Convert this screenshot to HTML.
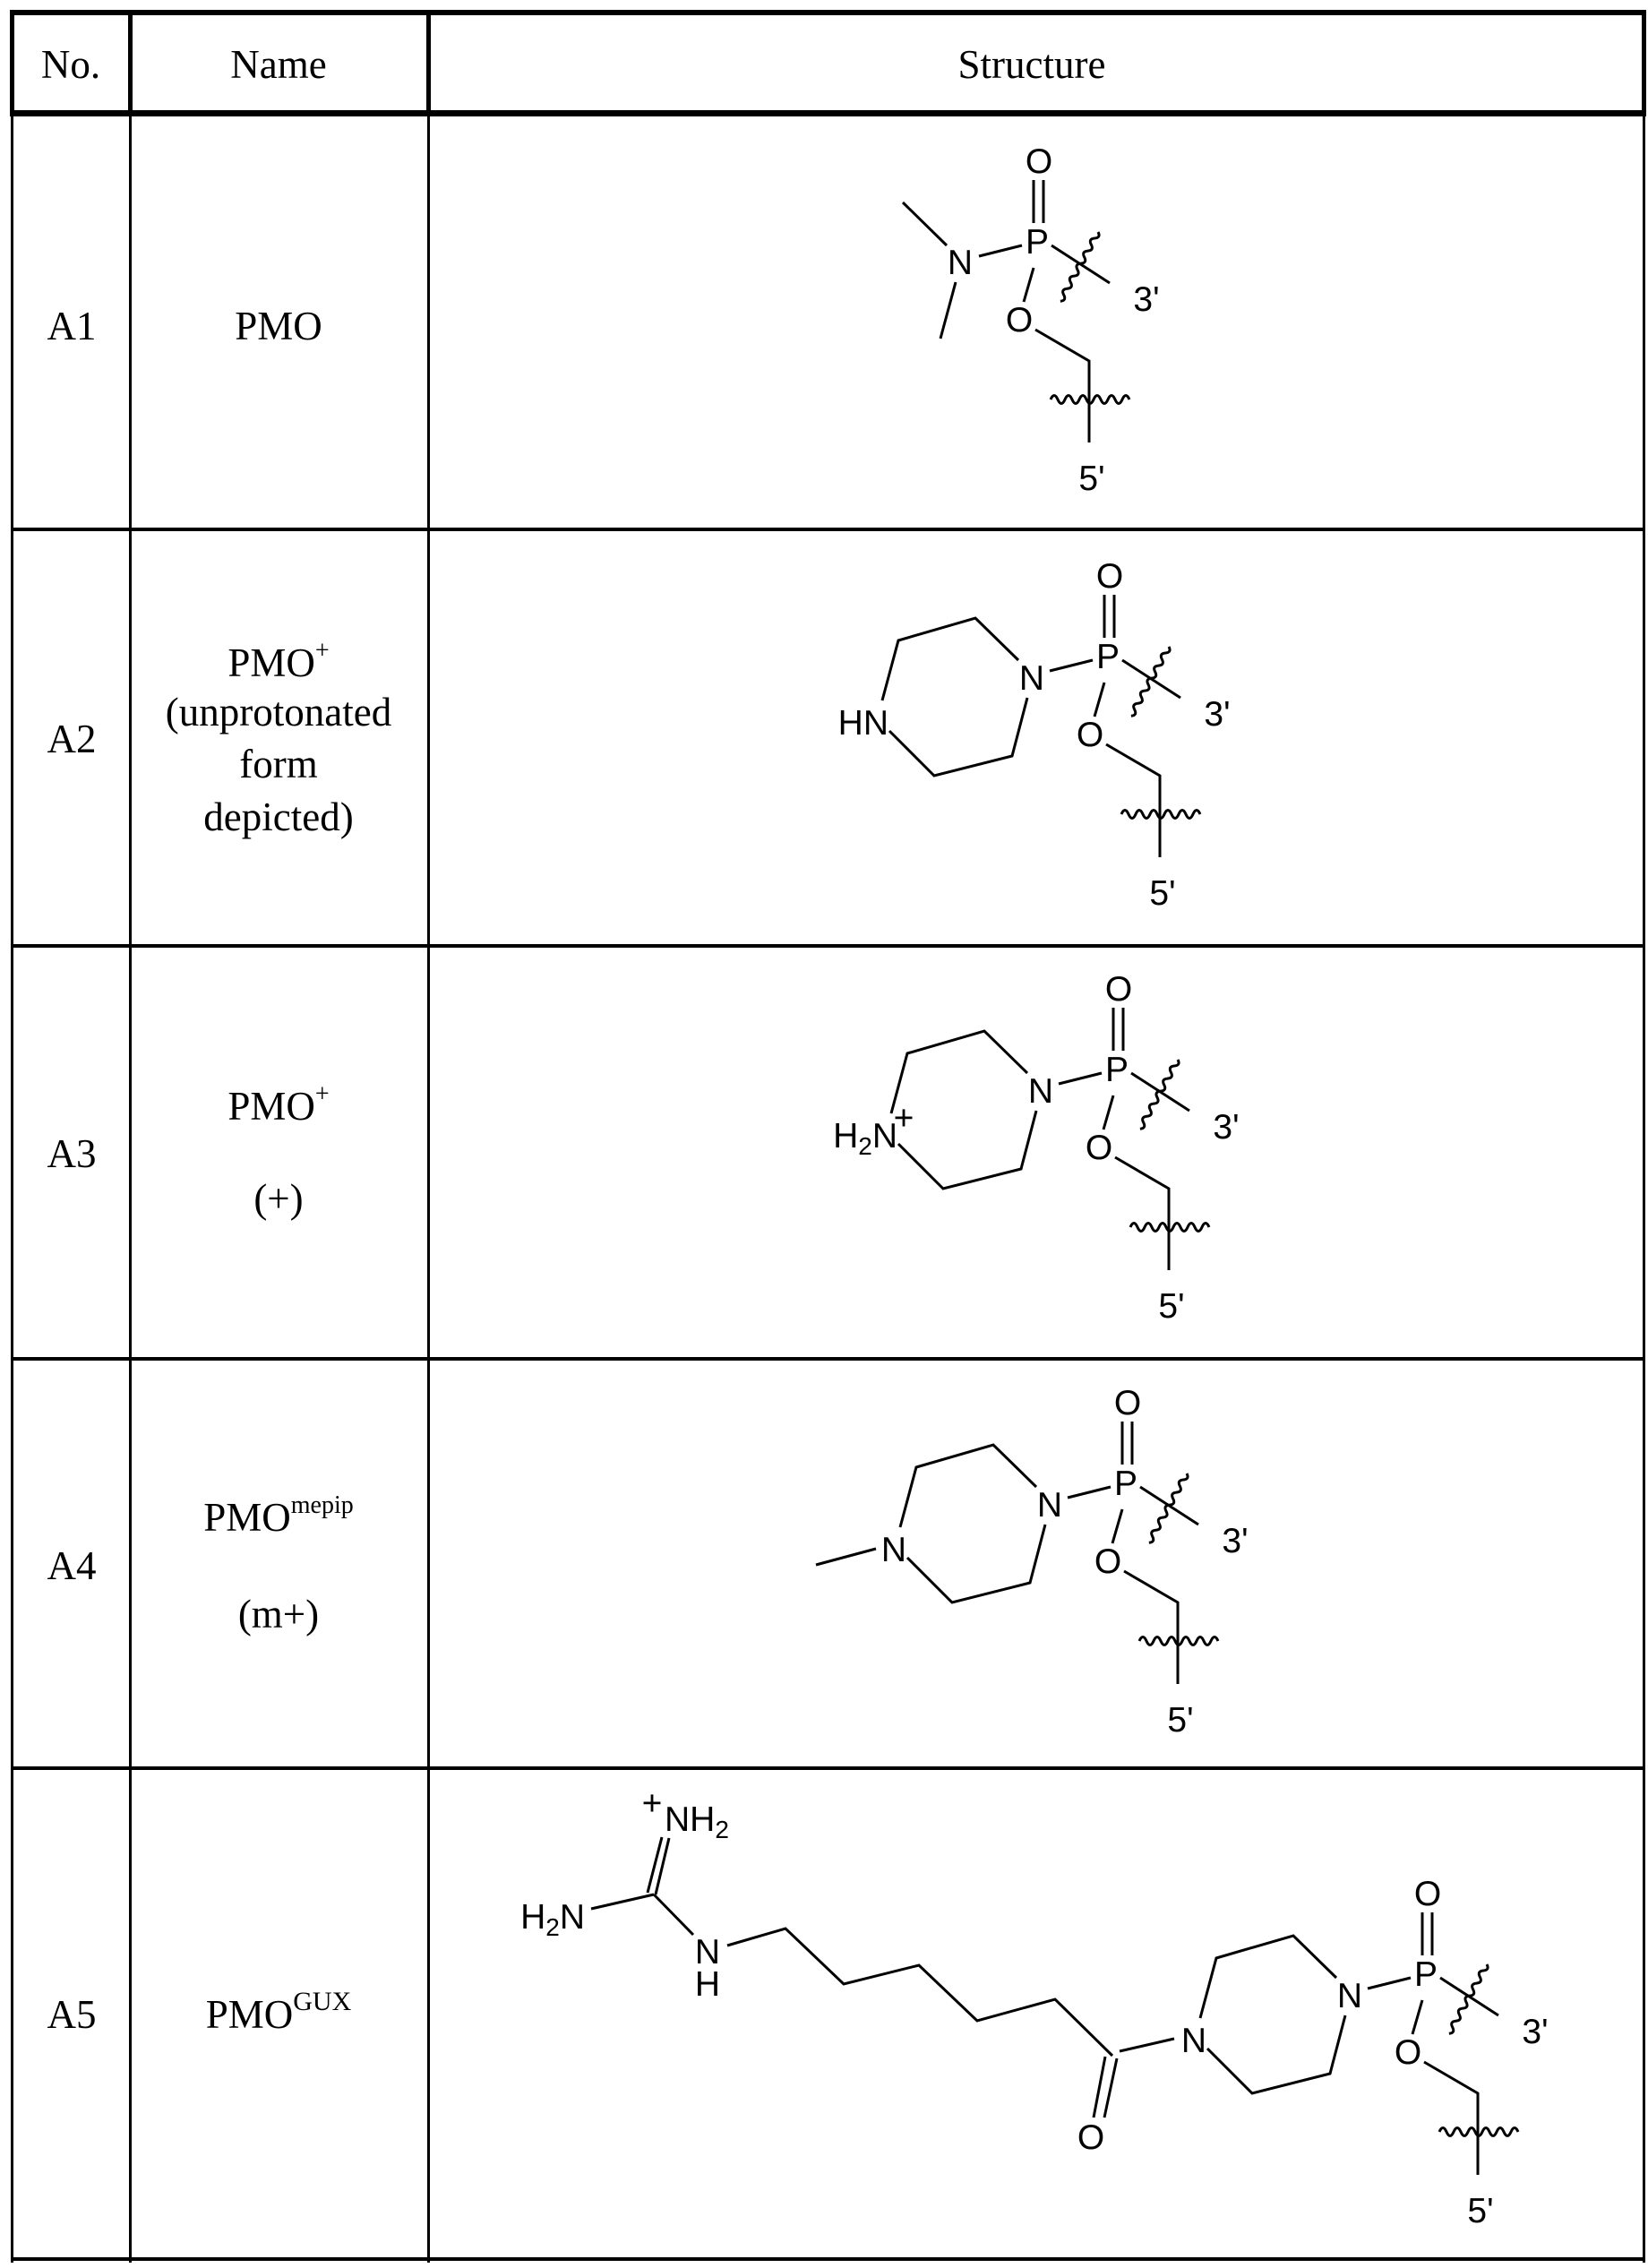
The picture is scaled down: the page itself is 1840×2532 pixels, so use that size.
<!DOCTYPE html>
<html><head><meta charset="utf-8"><style>
html,body{margin:0;padding:0;background:#fff;}
svg{display:block;}
.s text{font-family:"Liberation Serif",serif;font-size:45px;fill:#000;}
.m text{font-family:"Liberation Sans",sans-serif;font-size:39px;fill:#000;stroke:none;text-anchor:middle;}
.m line,.m polyline,.m path{stroke:#000;stroke-width:3;fill:none;}
</style></head><body>
<svg width="1840" height="2532" viewBox="0 0 1840 2532" xmlns="http://www.w3.org/2000/svg">
<g fill="#000">
<rect x="11" y="11" width="1827" height="6"/>
<rect x="11" y="123" width="1827" height="7"/>
<rect x="11" y="11" width="5" height="119"/>
<rect x="143" y="11" width="5" height="119"/>
<rect x="476" y="11" width="5" height="119"/>
<rect x="1833" y="11" width="5" height="119"/>
<rect x="12" y="130" width="3" height="2396"/>
<rect x="144" y="130" width="3" height="2396"/>
<rect x="477" y="130" width="3" height="2396"/>
<rect x="1834" y="130" width="3" height="2396"/>
<rect x="12" y="589" width="1825" height="4"/>
<rect x="12" y="1054" width="1825" height="4"/>
<rect x="12" y="1515" width="1825" height="4"/>
<rect x="12" y="1972" width="1825" height="4"/>
<rect x="12" y="2520" width="1825" height="4"/>
</g>
<g class="s" text-anchor="middle">
<text x="79" y="87">No.</text>
<text x="311" y="87">Name</text>
<text x="1152" y="87">Structure</text>
<text x="80" y="379">A1</text>
<text x="311" y="379">PMO</text>
<text x="80" y="840">A2</text>
<text x="311" y="755">PMO<tspan font-size="28" dy="-20">+</tspan></text>
<text x="311" y="810">(unprotonated</text>
<text x="311" y="868">form</text>
<text x="311" y="927">depicted)</text>
<text x="80" y="1303">A3</text>
<text x="311" y="1250">PMO<tspan font-size="28" dy="-20">+</tspan></text>
<text x="311" y="1353">(+)</text>
<text x="80" y="1763">A4</text>
<text x="311" y="1709">PMO<tspan font-size="28" dy="-20">mepip</tspan></text>
<text x="311" y="1817">(m+)</text>
<text x="80" y="2264">A5</text>
<text x="311" y="2264">PMO<tspan font-size="30" dy="-20">GUX</tspan></text>
</g>

<g class="m" transform="translate(1158,269)">
<line x1="-4" y1="-68" x2="-4" y2="-20"/><line x1="7" y1="-68" x2="7" y2="-20"/>
<line x1="-65" y1="17" x2="-17" y2="5"/>
<line x1="-4" y1="30" x2="-15" y2="68"/>
<polyline points="-2,99 58,134 58,225"/>
<line x1="16" y1="5" x2="81" y2="47"/>
<path d="M15,177 q4,-9 8,0 t8,0 t8,0 t8,0 t8,0 t8,0 t8,0 t8,0 t8,0 t8,0 t8,0"/>
<path transform="translate(68,-10) rotate(118.6)" d="M0,0 q4,-6 8,0 t8,0 t8,0 t8,0 t8,0 t8,0 t8,0 t8,0 t8,0 t8,0 t8,0"/>
<text x="0" y="14">P</text><text x="2" y="-76">O</text><text x="-20" y="101">O</text>
<text x="122" y="78">3'</text><text x="61" y="278">5'</text>
<text x="-86" y="37">N</text>
<line x1="-101" y1="5" x2="-150" y2="-43"/>
<line x1="-91" y1="46" x2="-108" y2="109"/>
</g>

<g class="m" transform="translate(1237,732)">
<line x1="-4" y1="-68" x2="-4" y2="-20"/><line x1="7" y1="-68" x2="7" y2="-20"/>
<line x1="-65" y1="17" x2="-17" y2="5"/>
<line x1="-4" y1="30" x2="-15" y2="68"/>
<polyline points="-2,99 58,134 58,225"/>
<line x1="16" y1="5" x2="81" y2="47"/>
<path d="M15,177 q4,-9 8,0 t8,0 t8,0 t8,0 t8,0 t8,0 t8,0 t8,0 t8,0 t8,0 t8,0"/>
<path transform="translate(68,-10) rotate(118.6)" d="M0,0 q4,-6 8,0 t8,0 t8,0 t8,0 t8,0 t8,0 t8,0 t8,0 t8,0 t8,0 t8,0"/>
<text x="0" y="14">P</text><text x="2" y="-76">O</text><text x="-20" y="101">O</text>
<text x="122" y="78">3'</text><text x="61" y="278">5'</text>
<text x="-85" y="38">N</text>
<polyline points="-100,5 -148,-42 -234,-17 -252,50"/>
<polyline points="-244,84 -194,134 -107,112 -90,47"/>
<text x="-245" y="88" style="text-anchor:end">HN</text>
</g>

<g class="m" transform="translate(1247,1193)">
<line x1="-4" y1="-68" x2="-4" y2="-20"/><line x1="7" y1="-68" x2="7" y2="-20"/>
<line x1="-65" y1="17" x2="-17" y2="5"/>
<line x1="-4" y1="30" x2="-15" y2="68"/>
<polyline points="-2,99 58,134 58,225"/>
<line x1="16" y1="5" x2="81" y2="47"/>
<path d="M15,177 q4,-9 8,0 t8,0 t8,0 t8,0 t8,0 t8,0 t8,0 t8,0 t8,0 t8,0 t8,0"/>
<path transform="translate(68,-10) rotate(118.6)" d="M0,0 q4,-6 8,0 t8,0 t8,0 t8,0 t8,0 t8,0 t8,0 t8,0 t8,0 t8,0 t8,0"/>
<text x="0" y="14">P</text><text x="2" y="-76">O</text><text x="-20" y="101">O</text>
<text x="122" y="78">3'</text><text x="61" y="278">5'</text>
<text x="-85" y="38">N</text>
<polyline points="-100,5 -148,-42 -234,-17 -252,50"/>
<polyline points="-244,84 -194,134 -107,112 -90,47"/>
<text x="-245" y="88" style="text-anchor:end">H<tspan font-size="28" dy="8">2</tspan><tspan dy="-8">N</tspan></text>
<text x="-238" y="68" font-size="28">+</text>
</g>

<g class="m" transform="translate(1257,1655)">
<line x1="-4" y1="-68" x2="-4" y2="-20"/><line x1="7" y1="-68" x2="7" y2="-20"/>
<line x1="-65" y1="17" x2="-17" y2="5"/>
<line x1="-4" y1="30" x2="-15" y2="68"/>
<polyline points="-2,99 58,134 58,225"/>
<line x1="16" y1="5" x2="81" y2="47"/>
<path d="M15,177 q4,-9 8,0 t8,0 t8,0 t8,0 t8,0 t8,0 t8,0 t8,0 t8,0 t8,0 t8,0"/>
<path transform="translate(68,-10) rotate(118.6)" d="M0,0 q4,-6 8,0 t8,0 t8,0 t8,0 t8,0 t8,0 t8,0 t8,0 t8,0 t8,0 t8,0"/>
<text x="0" y="14">P</text><text x="2" y="-76">O</text><text x="-20" y="101">O</text>
<text x="122" y="78">3'</text><text x="61" y="278">5'</text>
<text x="-85" y="38">N</text>
<polyline points="-100,5 -148,-42 -234,-17 -252,50"/>
<polyline points="-244,84 -194,134 -107,112 -90,47"/>
<text x="-259" y="88">N</text>
<line x1="-279" y1="74" x2="-346" y2="92"/>
</g>

<g class="m" transform="translate(1592,2203)">
<line x1="-4" y1="-68" x2="-4" y2="-20"/><line x1="7" y1="-68" x2="7" y2="-20"/>
<line x1="-65" y1="17" x2="-17" y2="5"/>
<line x1="-4" y1="30" x2="-15" y2="68"/>
<polyline points="-2,99 58,134 58,225"/>
<line x1="16" y1="5" x2="81" y2="47"/>
<path d="M15,177 q4,-9 8,0 t8,0 t8,0 t8,0 t8,0 t8,0 t8,0 t8,0 t8,0 t8,0 t8,0"/>
<path transform="translate(68,-10) rotate(118.6)" d="M0,0 q4,-6 8,0 t8,0 t8,0 t8,0 t8,0 t8,0 t8,0 t8,0 t8,0 t8,0 t8,0"/>
<text x="0" y="14">P</text><text x="2" y="-76">O</text><text x="-20" y="101">O</text>
<text x="122" y="78">3'</text><text x="61" y="278">5'</text>
<text x="-85" y="38">N</text>
<polyline points="-100,5 -148,-42 -234,-17 -252,50"/>
<polyline points="-244,84 -194,134 -107,112 -90,47"/>
<text x="-259" y="88">N</text>
</g>
<g class="m">
<line x1="1250" y1="2290" x2="1311" y2="2276"/>
<line x1="1234" y1="2296" x2="1221" y2="2364"/>
<line x1="1247" y1="2298" x2="1233" y2="2364"/>
<text x="1218" y="2399">O</text>
<polyline points="1242,2295 1178,2232 1091,2256 1026,2194 942,2215 877,2153 812,2172"/>
<text x="790" y="2192">N</text>
<text x="790" y="2228">H</text>
<line x1="730" y1="2115" x2="774" y2="2160"/>
<line x1="660" y1="2131" x2="730" y2="2115"/>
<line x1="723" y1="2113" x2="739" y2="2051"/>
<line x1="732" y1="2115" x2="747" y2="2052"/>
<text x="653" y="2153" style="text-anchor:end">H<tspan font-size="28" dy="8">2</tspan><tspan dy="-8">N</tspan></text>
<text x="742" y="2044" style="text-anchor:start">NH<tspan font-size="28" dy="8">2</tspan></text>
<text x="728" y="2026" font-size="28">+</text>
</g>
</svg>
</body></html>
